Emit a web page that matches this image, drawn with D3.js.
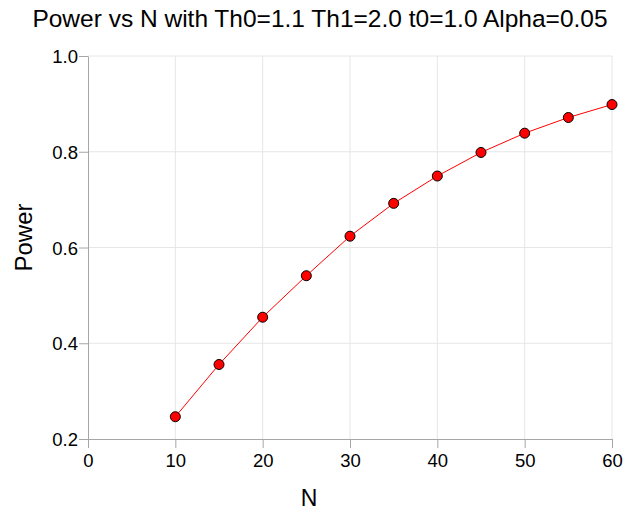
<!DOCTYPE html>
<html>
<head>
<meta charset="utf-8">
<script src="https://cdn.jsdelivr.net/npm/d3@7"></script>
<style>
  body { margin: 0; background: #fff; }
  svg { font-family: "Liberation Sans", Arial, sans-serif; }
</style>
</head>
<body>
<svg id="chart"></svg>
<script>
// data
var nValues = [10, 15, 20, 25, 30, 35, 40, 45, 50, 55, 60];
var powerValues = [0.2465, 0.3556, 0.4544, 0.541, 0.6236, 0.6922, 0.7493, 0.7985, 0.8388, 0.8715, 0.8986];
var xTicks = [0, 10, 20, 30, 40, 50, 60];
var yTicks = [0.2, 0.4, 0.6, 0.8, 1.0];
var titleText = "Power vs N with Th0=1.1 Th1=2.0 t0=1.0 Alpha=0.05";

var width = 624, height = 510;
var padding = {left: 88, right: 12, top: 56, bottom: 71};

var svg = d3.select("#chart")
  .attr("width", width)
  .attr("height", height);

var x = d3.scaleLinear().domain([0, 60]).range([padding.left, width - padding.right]);
var y = d3.scaleLinear().domain([0.2, 1.0]).range([height - padding.bottom, padding.top]);

// gridlines
svg.append("g").selectAll("line.vg")
  .data(xTicks.slice(1))
  .enter().append("line")
  .attr("x1", d => x(d)).attr("x2", d => x(d))
  .attr("y1", y(0.2)).attr("y2", y(1.0))
  .attr("stroke", "#e6e6e6").attr("stroke-width", 1);
svg.append("g").selectAll("line.hg")
  .data(yTicks.slice(1))
  .enter().append("line")
  .attr("x1", x(0)).attr("x2", x(60))
  .attr("y1", d => y(d)).attr("y2", d => y(d))
  .attr("stroke", "#e6e6e6").attr("stroke-width", 1);

// axes
var xAxis = d3.axisBottom(x).tickValues(xTicks).tickFormat(d3.format("d")).tickSize(9).tickSizeOuter(0);
var yAxis = d3.axisLeft(y).tickValues(yTicks).tickFormat(d3.format(".1f")).tickSize(9).tickSizeOuter(0);

var gx = svg.append("g")
  .attr("transform", "translate(0," + y(0.2) + ")")
  .call(xAxis);
var gy = svg.append("g")
  .attr("transform", "translate(" + x(0) + ",0)")
  .call(yAxis);

[gx, gy].forEach(function(g) {
  g.select(".domain").attr("stroke", "#a6a6a6");
  g.selectAll(".tick line").attr("stroke", "#a6a6a6");
  g.selectAll(".tick text")
    .attr("fill", "#000")
    .style("font-size", "18.5px")
    .style("font-family", "'Liberation Sans', Arial, sans-serif");
});
gx.selectAll(".tick text").attr("dy", null).attr("y", 28);
gy.selectAll(".tick text").attr("x", -10).attr("dy", "0.36em");

// line and points
var line = d3.line().x((d, i) => x(nValues[i])).y(d => y(d));
svg.append("path")
  .datum(powerValues)
  .attr("d", line)
  .attr("fill", "none")
  .attr("stroke", "#ff0000")
  .attr("stroke-width", 1);

svg.append("g").selectAll("circle")
  .data(powerValues)
  .enter().append("circle")
  .attr("cx", (d, i) => x(nValues[i]))
  .attr("cy", d => y(d))
  .attr("r", 5)
  .attr("fill", "#ff0000")
  .attr("stroke", "#000")
  .attr("stroke-width", 1);

// title and labels
svg.append("text")
  .attr("x", 320).attr("y", 27)
  .attr("text-anchor", "middle")
  .style("font-size", "24.5px")
  .text(titleText);

svg.append("text")
  .attr("x", 309).attr("y", 506)
  .attr("text-anchor", "middle")
  .style("font-size", "23px")
  .text("N");

svg.append("text")
  .attr("transform", "translate(32," + ((y(0.2) + y(1.0)) / 2 - 10) + ") rotate(-90)")
  .attr("text-anchor", "middle")
  .style("font-size", "24px")
  .text("Power");
</script>
</body>
</html>
